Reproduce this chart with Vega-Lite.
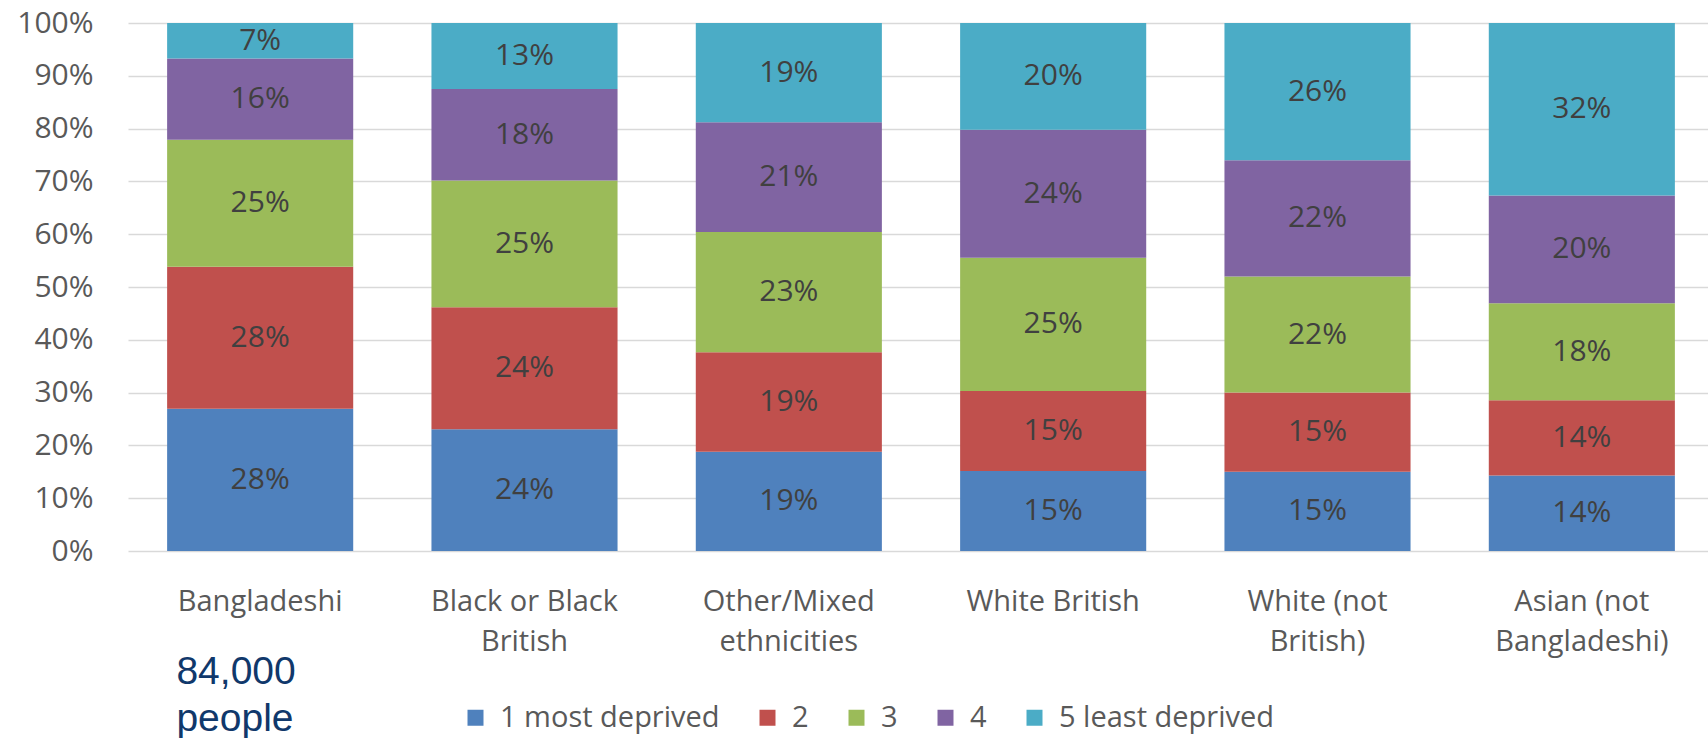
{
  "$schema": "https://vega.github.io/schema/vega-lite/v6.json",
  "width": 1580,
  "height": 528,
  "autosize": {"type": "none"},
  "padding": {"left": 128, "top": 23, "right": 0, "bottom": 187},
  "background": "white",
  "config": {
    "font": "Open Sans",
    "view": {"stroke": null}
  },
  "datasets": {
    "shares": [
      {"category": "Bangladeshi", "level": "1 most deprived", "share": 0.28},
      {"category": "Bangladeshi", "level": "2", "share": 0.28},
      {"category": "Bangladeshi", "level": "3", "share": 0.25},
      {"category": "Bangladeshi", "level": "4", "share": 0.16},
      {"category": "Bangladeshi", "level": "5 least deprived", "share": 0.07},
      {"category": "Black or Black British", "level": "1 most deprived", "share": 0.24},
      {"category": "Black or Black British", "level": "2", "share": 0.24},
      {"category": "Black or Black British", "level": "3", "share": 0.25},
      {"category": "Black or Black British", "level": "4", "share": 0.18},
      {"category": "Black or Black British", "level": "5 least deprived", "share": 0.13},
      {"category": "Other/Mixed ethnicities", "level": "1 most deprived", "share": 0.19},
      {"category": "Other/Mixed ethnicities", "level": "2", "share": 0.19},
      {"category": "Other/Mixed ethnicities", "level": "3", "share": 0.23},
      {"category": "Other/Mixed ethnicities", "level": "4", "share": 0.21},
      {"category": "Other/Mixed ethnicities", "level": "5 least deprived", "share": 0.19},
      {"category": "White British", "level": "1 most deprived", "share": 0.15},
      {"category": "White British", "level": "2", "share": 0.15},
      {"category": "White British", "level": "3", "share": 0.25},
      {"category": "White British", "level": "4", "share": 0.24},
      {"category": "White British", "level": "5 least deprived", "share": 0.20},
      {"category": "White (not British)", "level": "1 most deprived", "share": 0.15},
      {"category": "White (not British)", "level": "2", "share": 0.15},
      {"category": "White (not British)", "level": "3", "share": 0.22},
      {"category": "White (not British)", "level": "4", "share": 0.22},
      {"category": "White (not British)", "level": "5 least deprived", "share": 0.26},
      {"category": "Asian (not Bangladeshi)", "level": "1 most deprived", "share": 0.14},
      {"category": "Asian (not Bangladeshi)", "level": "2", "share": 0.14},
      {"category": "Asian (not Bangladeshi)", "level": "3", "share": 0.18},
      {"category": "Asian (not Bangladeshi)", "level": "4", "share": 0.20},
      {"category": "Asian (not Bangladeshi)", "level": "5 least deprived", "share": 0.32}
    ],
    "note": [
      {"category": "Bangladeshi", "text": "84,000\npeople"}
    ]
  },
  "layer": [
    {
      "data": {"name": "shares"},
      "mark": {"type": "bar"},
      "encoding": {
        "x": {
          "field": "category",
          "type": "nominal",
          "scale": {
            "domain": ["Bangladeshi", "Black or Black British", "Other/Mixed ethnicities", "White British", "White (not British)", "Asian (not Bangladeshi)"],
            "range": [0, 1586],
            "paddingInner": 0.296,
            "paddingOuter": 0.148
          },
          "axis": {
            "title": null,
            "domain": false,
            "ticks": false,
            "labelAngle": 0,
            "labelFont": "Open Sans",
            "labelFontSize": 29,
            "labelColor": "#595959",
            "labelLimit": 0,
            "labelPadding": 36,
            "labelLineHeight": 40,
            "labelExpr": "datum.label == 'Black or Black British' ? ['Black or Black', 'British'] : datum.label == 'Other/Mixed ethnicities' ? ['Other/Mixed', 'ethnicities'] : datum.label == 'White (not British)' ? ['White (not', 'British)'] : datum.label == 'Asian (not Bangladeshi)' ? ['Asian (not', 'Bangladeshi)'] : datum.label"
          }
        },
        "y": {
          "field": "share",
          "type": "quantitative",
          "stack": "normalize",
          "scale": {"domain": [0, 1], "nice": false},
          "axis": {
            "title": null,
            "domain": false,
            "ticks": false,
            "values": [0, 0.1, 0.2, 0.3, 0.4, 0.5, 0.6, 0.7, 0.8, 0.9, 1],
            "format": ".0%",
            "labelFont": "Open Sans",
            "labelFontSize": 30,
            "labelColor": "#595959",
            "labelPadding": 35,
            "gridColor": "#D9D9D9",
            "gridWidth": 1.5
          }
        },
        "color": {
          "field": "level",
          "type": "nominal",
          "scale": {
            "domain": ["1 most deprived", "2", "3", "4", "5 least deprived"],
            "range": ["#4F81BD", "#C0504D", "#9BBB59", "#8064A2", "#4BACC6"]
          },
          "legend": {
            "title": null,
            "orient": "none",
            "direction": "horizontal",
            "legendX": 333,
            "legendY": 680,
            "padding": 0,
            "symbolType": "square",
            "symbolSize": 256,
            "symbolStrokeWidth": 0,
            "symbolOpacity": 1,
            "labelFont": "Open Sans",
            "labelFontSize": 29,
            "labelColor": "#595959",
            "labelLimit": 0,
            "labelOffset": 10,
            "columnPadding": 33
          }
        },
        "order": {"field": "level", "type": "ordinal"}
      }
    },
    {
      "data": {"name": "shares"},
      "transform": [
        {"stack": "share", "groupby": ["category"], "sort": [{"field": "level"}], "offset": "normalize", "as": ["y0", "y1"]},
        {"fold": ["y0", "y1"], "as": ["edge", "pos"]},
        {"aggregate": [{"op": "mean", "field": "pos", "as": "mid"}], "groupby": ["category", "level", "share"]}
      ],
      "mark": {"type": "text", "font": "Open Sans", "fontSize": 30, "color": "#404040", "baseline": "middle"},
      "encoding": {
        "x": {"field": "category", "type": "nominal"},
        "y": {"field": "mid", "type": "quantitative", "axis": {"title": null}},
        "text": {"field": "share", "type": "quantitative", "format": ".0%"}
      }
    },
    {
      "data": {"name": "note"},
      "mark": {
        "type": "text",
        "align": "left",
        "baseline": "alphabetic",
        "font": "Liberation Sans",
        "fontSize": 39,
        "lineHeight": 47,
        "lineBreak": "\n",
        "color": "#10386B"
      },
      "encoding": {
        "x": {"field": "category", "type": "nominal", "bandPosition": 0.05},
        "y": {"datum": -0.252},
        "text": {"field": "text"}
      }
    }
  ]
}
